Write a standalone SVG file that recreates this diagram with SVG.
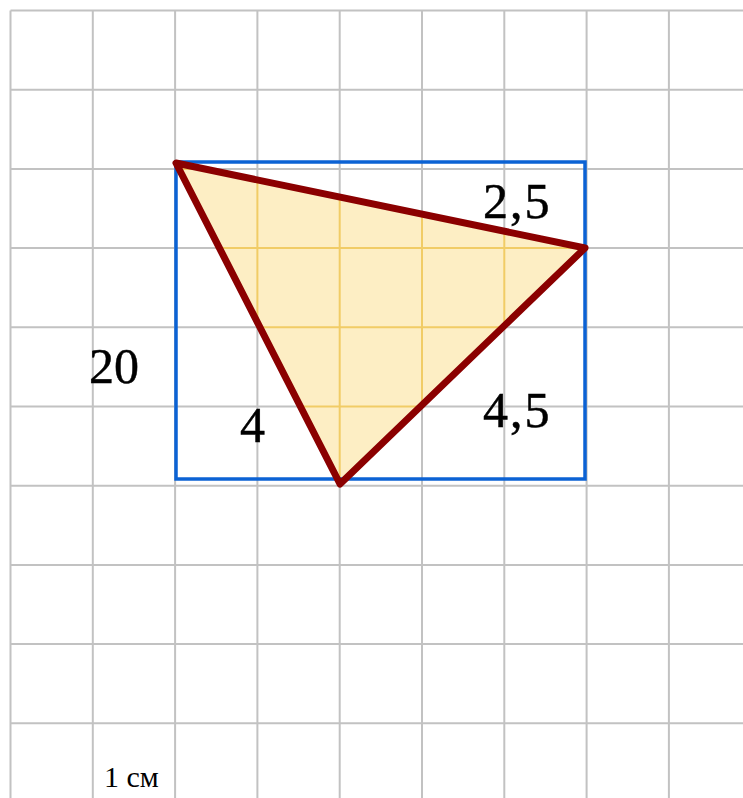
<svg xmlns="http://www.w3.org/2000/svg" width="743" height="798" viewBox="0 0 743 798">
<style>
.g{stroke:#c2c2c2;stroke-width:2;fill:none}
.gy{stroke:#f1cc66;stroke-width:2;fill:none}
.t{font-family:"Liberation Serif","DejaVu Serif",serif;fill:#000}
.n{stroke:#000;stroke-width:0.5}
</style>
<defs>
<clipPath id="tri"><polygon points="176,163 585,248 340,484"/></clipPath>
<g id="grid">
<path d="M10.5,10.5V798M92.8,10.5V798M175.1,10.5V798M257.4,10.5V798M339.7,10.5V798M422,10.5V798M504.3,10.5V798M586.6,10.5V798M668.9,10.5V798"/>
<path d="M10.5,10.5H743M10.5,89.7H743M10.5,168.9H743M10.5,248.1H743M10.5,327.3H743M10.5,406.5H743M10.5,485.7H743M10.5,564.9H743M10.5,644.1H743M10.5,723.3H743"/>
</g>
</defs>
<rect width="743" height="798" fill="#fff"/>
<use href="#grid" class="g"/>
<g id="triangle-fill">
<polygon points="176,163 585,248 340,484" fill="#fdeec4"/>
<use href="#grid" class="gy" clip-path="url(#tri)"/>
</g>
<g id="rect">
<rect x="176" y="162" width="409" height="317" fill="none" stroke="#0b62d4" stroke-width="3.5"/>
</g>
<g id="triangle">
<polygon points="176,163 585,248 340,484" fill="none" stroke="#8b0000" stroke-width="7" stroke-linejoin="round"/>
</g>
<g id="labels">
<text class="t n" x="483" y="218" font-size="50" letter-spacing="2">2,5</text>
<text class="t n" x="89" y="383" font-size="50">20</text>
<text class="t n" x="240" y="442" font-size="50">4</text>
<text class="t n" x="483" y="427" font-size="50" letter-spacing="2">4,5</text>
<text class="t" x="104" y="787" font-size="30">1 см</text>
</g>
</svg>
